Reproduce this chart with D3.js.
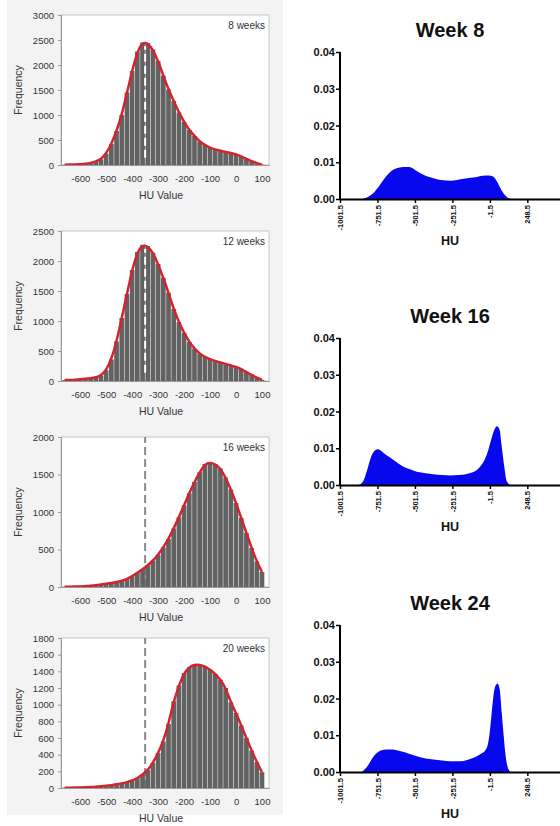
<!DOCTYPE html>
<html>
<head>
<meta charset="utf-8">
<script src="https://cdn.jsdelivr.net/npm/d3@7"></script>
<style>
  body { margin: 0; background: #fff; }
  svg { display: block; font-family: "Liberation Sans", Arial, sans-serif; }
</style>
</head>
<body>
<svg></svg>
<script>
// histogram bin centres (HU), 20 HU wide
var binCenters = [-660, -640, -620, -600, -580, -560, -540, -520, -500, -480,
  -460, -440, -420, -400, -380, -360, -340, -320, -300, -280,
  -260, -240, -220, -200, -180, -160, -140, -120, -100, -80,
  -60, -40, -20, 0, 20, 40, 60, 80, 100];

var hist8 = [5, 8, 10, 13, 25, 40, 70, 115, 230, 420,
  680, 1000, 1450, 1880, 2270, 2450, 2440, 2310, 2080, 1790,
  1510, 1280, 1050, 860, 700, 580, 470, 400, 345, 310,
  285, 260, 240, 215, 175, 120, 75, 35, 8];

var hist12 = [15, 18, 22, 28, 36, 45, 60, 90, 180, 360,
  660, 1050, 1450, 1850, 2150, 2270, 2250, 2140, 1950, 1720,
  1470, 1200, 980, 800, 650, 540, 455, 400, 365, 335,
  310, 285, 260, 235, 200, 150, 100, 55, 20];

var hist16 = [3, 4, 5, 8, 12, 16, 22, 32, 42, 52,
  65, 82, 105, 145, 190, 235, 290, 350, 430, 530,
  640, 780, 930, 1090, 1250, 1400, 1530, 1640, 1660, 1640,
  1580, 1460, 1300, 1120, 920, 720, 520, 340, 200];

var hist20 = [3, 4, 5, 7, 9, 12, 15, 20, 26, 34,
  44, 55, 70, 90, 118, 160, 215, 300, 420, 560,
  770, 1040, 1230, 1380, 1450, 1480, 1480, 1460, 1420, 1370,
  1300, 1200, 1030, 900, 750, 600, 450, 310, 190];

var histNames = ["8 weeks", "12 weeks", "16 weeks", "20 weeks"];
var histXTicks = [-600, -500, -400, -300, -200, -100, 0, 100];
var histYTicks = [
  [0, 500, 1000, 1500, 2000, 2500, 3000],
  [0, 500, 1000, 1500, 2000, 2500],
  [0, 500, 1000, 1500, 2000],
  [0, 200, 400, 600, 800, 1000, 1200, 1400, 1600, 1800]
];
var cutoffHU = -350;

// kernel density, [HU, density]
var dens8 = [[-1001.5, 0], [-860, 0], [-830, 0.0003], [-790, 0.0012], [-750, 0.003],
  [-712, 0.0052], [-680, 0.0068], [-645, 0.008], [-610, 0.0085], [-578, 0.0087],
  [-540, 0.0087], [-523, 0.0085], [-490, 0.0076], [-445, 0.0066], [-400, 0.0059],
  [-355, 0.0054], [-310, 0.0051], [-266, 0.005], [-220, 0.0052], [-177, 0.0055],
  [-130, 0.0058], [-88, 0.006], [-50, 0.0063], [-10, 0.0064], [20, 0.0061],
  [45, 0.0048], [68, 0.003], [90, 0.0015], [113, 0.0005], [147, 0], [498.5, 0]];

var dens16 = [[-1001.5, 0], [-880, 0], [-850, 0.0008], [-834, 0.0023], [-815, 0.0048],
  [-801, 0.0068], [-785, 0.0085], [-768, 0.0094], [-750, 0.0097], [-730, 0.0094],
  [-712, 0.0088], [-680, 0.0078], [-645, 0.0068], [-610, 0.0058], [-578, 0.005],
  [-530, 0.0042], [-489, 0.0036], [-430, 0.0032], [-378, 0.0029], [-320, 0.0027],
  [-266, 0.0026], [-210, 0.0027], [-155, 0.003], [-120, 0.0034], [-88, 0.0041],
  [-60, 0.0053], [-32, 0.0073], [-12, 0.0095], [1, 0.0114], [15, 0.0135],
  [28, 0.015], [46, 0.016], [64, 0.015], [76, 0.011], [86, 0.0077],
  [98, 0.004], [108, 0.0014], [122, 0.0004], [135, 0], [498.5, 0]];

var dens24 = [[-1001.5, 0], [-860, 0], [-835, 0.0008], [-812, 0.002], [-790, 0.0035],
  [-768, 0.0047], [-745, 0.0055], [-723, 0.0059], [-695, 0.0061], [-667, 0.0061],
  [-630, 0.006], [-589, 0.0056], [-540, 0.005], [-489, 0.0043], [-430, 0.0037],
  [-378, 0.0034], [-320, 0.0031], [-266, 0.0029], [-220, 0.0029], [-177, 0.003],
  [-130, 0.0036], [-88, 0.0043], [-55, 0.0051], [-32, 0.0059], [-15, 0.0075],
  [-3, 0.0106], [8, 0.015], [17, 0.0188], [26, 0.0218], [35, 0.0234],
  [50, 0.0241], [64, 0.0225], [78, 0.016], [91, 0.0097], [102, 0.005],
  [113, 0.002], [125, 0.0006], [140, 0], [498.5, 0]];

var densNames = ["Week 8", "Week 16", "Week 24"];
var densXTicks = [-1001.5, -751.5, -501.5, -251.5, -1.5, 248.5];
var densYTicks = [0, 0.01, 0.02, 0.03, 0.04];

var svg = d3.select("svg")
  .attr("width", 560)
  .attr("height", 826);

svg.append("rect")
  .attr("width", 560).attr("height", 826)
  .attr("fill", "#fff");

// light grey backing behind the histogram column
svg.append("rect")
  .attr("x", 7).attr("y", 0)
  .attr("width", 276).attr("height", 815)
  .attr("fill", "#f3f3f3");

var histSeries = [hist8, hist12, hist16, hist20];
var histTops = [15, 231, 437, 638];

histSeries.forEach(function(values, i) {
  drawHistogram(values, i, histTops[i]);
});

var densSeries = [dens8, dens16, dens24];
var densBottoms = [199, 485, 772];

densSeries.forEach(function(values, i) {
  drawDensity(values, i, densBottoms[i]);
});

function drawHistogram(values, i, top) {
  var left = 61, right = 269, h = 150;
  var bottom = top + h;
  var yTicks = histYTicks[i];
  var yMax = yTicks[yTicks.length - 1];

  var x = d3.scaleLinear().domain([-674, 127]).range([left, right]);
  var y = d3.scaleLinear().domain([0, yMax]).range([bottom, top]);
  var g = svg.append("g");

  g.append("rect")
    .attr("x", left).attr("y", top)
    .attr("width", right - left).attr("height", h)
    .attr("fill", "#fff")
    .attr("stroke", "#c4c4c4");

  // later time points: grey dashed cut-off behind the bars
  if (i >= 2) {
    g.append("line")
      .attr("x1", x(cutoffHU)).attr("x2", x(cutoffHU))
      .attr("y1", y(0)).attr("y2", y(yMax))
      .attr("stroke", "#8a8a8a")
      .attr("stroke-width", 2)
      .attr("stroke-dasharray", "8,4");
  }

  var bw = x(10) - x(-10);
  g.selectAll("rect.bar")
    .data(values)
    .enter()
    .append("rect")
      .classed("bar", true)
      .attr("x", (d, j) => x(binCenters[j] - 10) + 0.25)
      .attr("width", bw - 0.5)
      .attr("y", d => y(d))
      .attr("height", d => y(0) - y(d))
      .attr("fill", "#626262");

  if (i < 2) {
    var peak = d3.max(values);
    g.append("line")
      .attr("x1", x(cutoffHU)).attr("x2", x(cutoffHU))
      .attr("y1", y(peak * 0.06)).attr("y2", y(peak * 0.97))
      .attr("stroke", "#fff")
      .attr("stroke-width", 2)
      .attr("stroke-dasharray", "8,4");
  }

  var line = d3.line()
    .x((d, j) => x(binCenters[j]))
    .y(d => y(d))
    .curve(d3.curveBasis);

  g.append("path")
    .datum(values)
    .attr("d", line)
    .attr("fill", "none")
    .attr("stroke", "#d3242e")
    .attr("stroke-width", 2.5);

  // axes
  var yAxis = g.append("g")
    .attr("transform", "translate(" + left + ",0)")
    .call(d3.axisLeft(y).tickValues(yTicks).tickSize(3).tickPadding(4).tickFormat(d => String(d)));
  var xAxis = g.append("g")
    .attr("transform", "translate(0," + bottom + ")")
    .call(d3.axisBottom(x).tickValues(histXTicks).tickSize(0).tickPadding(10).tickFormat(d => String(d)));

  [yAxis, xAxis].forEach(function(ax) {
    ax.select(".domain").attr("stroke", "#9a9a9a");
    ax.selectAll(".tick line").attr("stroke", "#9a9a9a");
    ax.selectAll("text")
      .attr("fill", "#333")
      .style("font-size", "9.5px")
      .style("font-family", "Liberation Sans, Arial, sans-serif");
  });

  g.append("text")
    .attr("x", (left + right) / 2 - 4)
    .attr("y", bottom + 34)
    .attr("text-anchor", "middle")
    .attr("fill", "#333")
    .style("font-size", "10.5px")
    .text("HU Value");

  g.append("text")
    .attr("transform", "translate(18," + (top + h / 2) + ") rotate(-90)")
    .attr("dy", "0.35em")
    .attr("text-anchor", "middle")
    .attr("fill", "#333")
    .style("font-size", "10.5px")
    .text("Frequency");

  g.append("text")
    .attr("x", right - 4)
    .attr("y", top + 14)
    .attr("text-anchor", "end")
    .attr("fill", "#333")
    .style("font-size", "10px")
    .text(histNames[i]);
}

function drawDensity(values, i, bottom) {
  var left = 340, h = 147;
  var top = bottom - h;

  var x = d3.scaleLinear().domain([-1001.5, 498.5]).range([left, 564.8]);
  var y = d3.scaleLinear().domain([0, 0.04]).range([bottom, top]);
  var g = svg.append("g");

  var area = d3.area()
    .x(d => x(d[0]))
    .y0(y(0))
    .y1(d => y(d[1]))
    .curve(d3.curveMonotoneX);

  g.append("path")
    .datum(values)
    .attr("d", area)
    .attr("fill", "#0808ef");

  var yAxis = g.append("g")
    .attr("transform", "translate(" + left + ",0)")
    .call(d3.axisLeft(y).tickValues(densYTicks).tickSize(4).tickPadding(1).tickFormat(d3.format(".2f")));
  var xAxis = g.append("g")
    .attr("transform", "translate(0," + bottom + ")")
    .call(d3.axisBottom(x).tickValues(densXTicks).tickSize(4).tickSizeOuter(0).tickFormat(d => String(d)));

  [yAxis, xAxis].forEach(function(ax) {
    ax.select(".domain").attr("stroke", "#000").attr("stroke-width", 2);
    ax.selectAll(".tick line").attr("stroke", "#000").attr("stroke-width", 1.5);
  });
  yAxis.select(".domain").attr("d", "M0," + (bottom + 1) + "V" + top);
  yAxis.selectAll("text")
    .attr("fill", "#111")
    .style("font-size", "11px")
    .style("font-weight", "bold");

  xAxis.selectAll("text")
    .attr("fill", "#111")
    .attr("transform", "rotate(-90)")
    .attr("text-anchor", "end")
    .attr("x", -6)
    .attr("y", 0)
    .attr("dy", "0.35em")
    .style("font-size", "7.5px")
    .style("font-weight", "bold");

  g.append("text")
    .attr("x", 450)
    .attr("y", top - 15)
    .attr("text-anchor", "middle")
    .attr("fill", "#111")
    .style("font-size", "20px")
    .style("font-weight", "bold")
    .text(densNames[i]);

  g.append("text")
    .attr("x", 450)
    .attr("y", bottom + 46)
    .attr("text-anchor", "middle")
    .attr("fill", "#111")
    .style("font-size", "12.5px")
    .style("font-weight", "bold")
    .text("HU");
}
</script>
</body>
</html>
